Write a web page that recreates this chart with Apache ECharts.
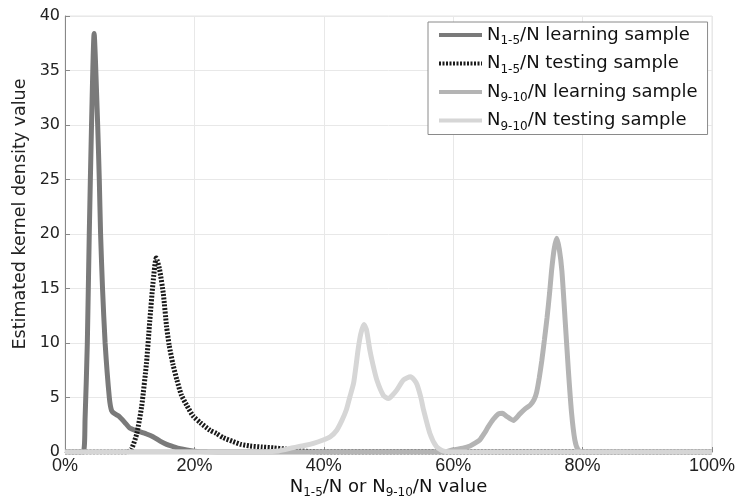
<!DOCTYPE html>
<html>
<head>
<meta charset="utf-8">
<script src="https://cdn.jsdelivr.net/npm/echarts@6/dist/echarts.min.js"></script>
<style>
html,body{margin:0;padding:0;background:#fff;}
#chart{width:739px;height:497px;}
</style>
</head>
<body>
<div id="chart"></div>
<script>
// x values in percent, y values = estimated kernel density
const learn15X = [0, 2.8, 3.1, 3.45, 3.75, 4.1, 4.5, 5.05, 5.3, 5.5, 5.8, 6.2, 6.85, 7.2, 7.7, 8.3, 8.8, 9.4, 10.0, 10.8, 11.6, 12.6, 13.6, 14.7, 15.7, 16.7, 17.8, 18.8, 20, 22, 25, 100];
const learn15Y = [0, 0, 3, 10, 20, 30, 38.4, 30, 25, 20, 15, 10, 5, 3.8, 3.5, 3.3, 3.0, 2.6, 2.2, 2.0, 1.85, 1.65, 1.4, 1.0, 0.7, 0.5, 0.3, 0.18, 0.08, 0.02, 0, 0];

const test15X = [0, 9.6, 10.3, 11.1, 11.85, 12.6, 13.1, 13.6, 14.1, 14.6, 15.2, 15.7, 16.1, 16.7, 17.3, 18.0, 18.8, 19.8, 20.9, 22.4, 23.4, 24.5, 26.0, 27.2, 28.6, 30.5, 32.2, 34.0, 36.3, 38, 40, 100];
const test15Y = [0, 0, 0.3, 1.7, 4.2, 8.2, 12, 15.5, 17.8, 16.8, 14.5, 11.5, 9.8, 8.0, 6.6, 5.2, 4.3, 3.3, 2.7, 2.0, 1.7, 1.3, 0.95, 0.7, 0.55, 0.45, 0.38, 0.28, 0.12, 0.03, 0, 0];

const learn910X = [0, 57, 59, 60, 61.5, 62.6, 63.5, 64.1, 64.8, 65.4, 66.2, 67.0, 67.6, 68.2, 69.3, 70.3, 71.2, 71.9, 72.5, 72.9, 73.3, 73.7, 74.1, 74.5, 74.9, 75.2, 75.6, 76.0, 76.4, 76.8, 77.3, 77.8, 78.3, 78.8, 79.3, 80, 100];
const learn910Y = [0, 0, 0.05, 0.2, 0.35, 0.55, 0.85, 1.1, 1.7, 2.3, 3.0, 3.5, 3.55, 3.3, 2.9, 3.5, 4.0, 4.3, 4.8, 5.5, 6.8, 8.4, 10.3, 12.3, 14.6, 16.6, 18.6, 19.6, 18.6, 16.6, 12.1, 7.5, 3.55, 1.1, 0.2, 0, 0];

const test910X = [0, 30, 33, 35.3, 37, 38.4, 39.9, 41, 42, 42.8, 43.5, 44.0, 44.6, 45.0, 45.3, 45.7, 46.2, 46.6, 47.1, 47.6, 48.2, 49.2, 50.0, 50.6, 51.3, 52.3, 53.4, 54.0, 54.4, 55.0, 55.4, 56.4, 57.4, 58.4, 60, 100];
const test910Y = [0, 0, 0.1, 0.4, 0.6, 0.8, 1.1, 1.4, 2.0, 2.9, 3.9, 5.0, 6.3, 8.0, 9.4, 10.8, 11.7, 11.2, 9.4, 8.0, 6.6, 5.2, 4.9, 5.2, 5.7, 6.6, 6.9, 6.6, 6.2, 5.0, 3.9, 1.7, 0.5, 0.1, 0, 0];

const xTicks = [0, 20, 40, 60, 80, 100];
const yTicks = [0, 5, 10, 15, 20, 25, 30, 35, 40];

const seriesNames = ['N1-5 learning', 'N1-5 testing', 'N9-10 learning', 'N9-10 testing'];

function pairs(xs, ys) { return xs.map((x, i) => [x, ys[i]]); }

const SANS = '"Liberation Sans", Arial, sans-serif';
const WIDE = '"DejaVu Sans", sans-serif';
const richStyles = {
  n: { fontSize: 18, fontFamily: WIDE, color: '#111', lineHeight: 20 },
  s: { fontSize: 12, fontFamily: WIDE, color: '#111', lineHeight: 8, padding: [12, 0, 0, 0] }
};
const legendLabels = {
  'N1-5 learning': '{n|N}{s|1-5}{n|/N learning sample}',
  'N1-5 testing': '{n|N}{s|1-5}{n|/N testing sample}',
  'N9-10 learning': '{n|N}{s|9-10}{n|/N learning sample}',
  'N9-10 testing': '{n|N}{s|9-10}{n|/N testing sample}'
};

const chart = echarts.init(document.getElementById('chart'), null, { renderer: 'canvas' });

const option = {
  animation: false,
  backgroundColor: '#fff',
  grid: { left: 65, right: 27, top: 16, bottom: 45, show: true, borderColor: '#e4e4e4', borderWidth: 1, outerBoundsMode: 'none', containLabel: false },
  legend: {
    orient: 'vertical',
    left: 428,
    top: 22,
    itemWidth: 43,
    itemHeight: 10,
    itemGap: 4.5,
    padding: [1, 10, 2, 9],
    borderColor: '#8a8a8a',
    borderWidth: 1,
    backgroundColor: '#fff',
    data: seriesNames,
    itemStyle: { opacity: 0 },
    lineStyle: { width: 4 },
    formatter: name => legendLabels[name],
    textStyle: { fontFamily: WIDE, fontSize: 18, color: '#111', rich: richStyles }
  },
  xAxis: {
    type: 'value',
    min: xTicks[0],
    max: xTicks[xTicks.length - 1],
    interval: 20,
    axisLine: { show: true, lineStyle: { color: '#888', width: 1 } },
    axisTick: { show: true, inside: true, length: 5, lineStyle: { color: '#888' } },
    axisLabel: { formatter: '{value}%', fontFamily: SANS, fontSize: 18, color: '#222', margin: 5 },
    splitLine: { show: true, lineStyle: { color: '#e8e8e8', width: 1 } },
    name: '{n|N}{s|1-5}{n|/N or N}{s|9-10}{n|/N value}',
    nameLocation: 'middle',
    nameGap: 25,
    nameMoveOverlap: false,
    nameTextStyle: { fontFamily: WIDE, fontSize: 18, color: '#111', rich: richStyles }
  },
  yAxis: {
    type: 'value',
    min: yTicks[0],
    max: yTicks[yTicks.length - 1],
    interval: 5,
    axisLine: { show: true, lineStyle: { color: '#888', width: 1 } },
    axisTick: { show: true, inside: true, length: 5, lineStyle: { color: '#888' } },
    axisLabel: { fontFamily: WIDE, fontSize: 16, color: '#222', margin: 5 },
    splitLine: { show: true, lineStyle: { color: '#e8e8e8', width: 1 } },
    name: 'Estimated kernel density value',
    nameLocation: 'middle',
    nameGap: 36,
    nameMoveOverlap: false,
    nameTextStyle: { fontFamily: WIDE, fontSize: 17.5, color: '#222', padding: [0, 0, 0, 40] }
  },
  series: [
    {
      name: seriesNames[0], type: 'line', symbol: 'none', smooth: 0.2,
      data: pairs(learn15X, learn15Y),
      lineStyle: { color: '#7a7a7a', width: 5 }, itemStyle: { color: '#7a7a7a' }
    },
    {
      name: seriesNames[1], type: 'line', symbol: 'none', smooth: 0.2,
      data: pairs(test15X, test15Y),
      lineStyle: { color: '#1a1a1a', width: 5, type: [2, 1.5], cap: 'butt' }, itemStyle: { color: '#1a1a1a' }
    },
    {
      name: seriesNames[2], type: 'line', symbol: 'none', smooth: 0.2,
      data: pairs(learn910X, learn910Y),
      lineStyle: { color: '#b4b4b4', width: 5 }, itemStyle: { color: '#b4b4b4' }
    },
    {
      name: seriesNames[3], type: 'line', symbol: 'none', smooth: 0.2,
      data: pairs(test910X, test910Y),
      lineStyle: { color: '#d6d6d6', width: 5 }, itemStyle: { color: '#d6d6d6' }
    }
  ]
};
chart.setOption(option);
</script>
</body>
</html>
